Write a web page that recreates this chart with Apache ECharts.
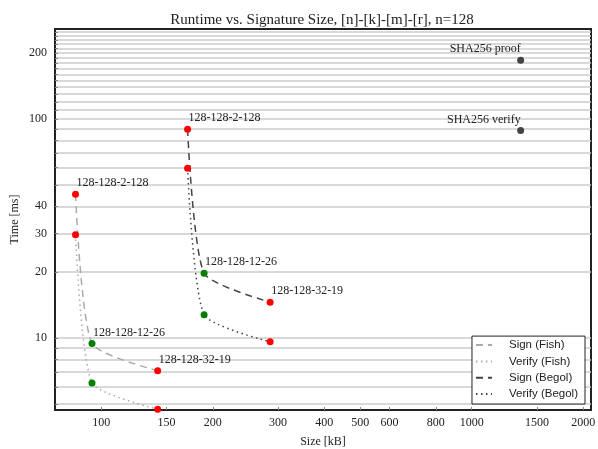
<!DOCTYPE html>
<html>
<head>
<meta charset="utf-8">
<script src="https://cdn.jsdelivr.net/npm/echarts@6/dist/echarts.min.js"></script>
<style>html,body{margin:0;padding:0;background:#fff}#chart{width:598px;height:449px}</style>
</head>
<body>
<div id="chart"></div>
<script>
// ---- data ----
const paramLabels = ['128-128-2-128', '128-128-12-26', '128-128-32-19'];
const fishSize = [85.2, 94.4, 142];
const fishSign = [45.4, 9.45, 7.11];
const fishVerify = [29.7, 6.25, 4.74];
const begolSize = [171, 189.5, 285.7];
const begolSign = [90, 19.8, 14.6];
const begolVerify = [59.7, 12.8, 9.62];
const shaNames = ['SHA256 proof', 'SHA256 verify'];
const shaSize = [1356, 1356];
const shaTime = [186, 88.7];
const xTickLabels = [100, 150, 200, 300, 400, 500, 600, 800, 1000, 1500, 2000];
const yTickLabels = [10, 20, 30, 40, 100, 200];
const yGridValues = [5, 6, 7, 8, 9, 10, 20, 30, 40, 50, 60, 70, 80, 90,
  100, 110, 120, 130, 140, 150, 160, 170, 180, 190, 200, 210, 220, 230, 240, 250];

// ---- styles ----
const SERIF = '"Liberation Serif", "DejaVu Serif", serif';
const SANS = '"Liberation Sans", "DejaVu Sans", sans-serif';
const pointColors = ['#ff0000', '#008000', '#ff0000'];
const light = '#aaaaaa', dark = '#444444';

function pairs(xs, ys) { return xs.map((x, i) => [x, ys[i]]); }

function lineSeries(name, xs, ys, color, type) {
  return {
    name: name, type: 'line', data: pairs(xs, ys), symbol: 'none',
    smooth: 0.2, z: 2,
    lineStyle: { color: color, width: 1.5, type: type === 'dashed' ? [7, 5] : [1.5, 3.5] },
    itemStyle: { color: color }
  };
}

function markerSeries(xs, ys, withLabels) {
  return {
    type: 'scatter', z: 5, symbolSize: 7,
    data: xs.map((x, i) => ({
      value: [x, ys[i]],
      itemStyle: { color: pointColors[i], opacity: 1 },
      label: withLabels ? {
        show: true, formatter: paramLabels[i], position: [4.5, -7.5],
        align: 'left', verticalAlign: 'middle',
        fontFamily: SERIF, fontSize: 12, color: '#222'
      } : { show: false }
    }))
  };
}

const chart = echarts.init(document.getElementById('chart'), null, { renderer: 'canvas' });
chart.setOption({
  animation: false,
  backgroundColor: '#fff',
  title: {
    text: 'Runtime vs. Signature Size, [n]-[k]-[m]-[r], n=128',
    left: 317, textAlign: 'center', top: 8,
    textStyle: { fontFamily: SERIF, fontSize: 15, fontWeight: 'normal', color: '#222' }
  },
  grid: { left: 55, right: 7, top: 29, bottom: 39, show: true, borderColor: '#222', borderWidth: 2,
    containLabel: false, outerBoundsMode: 'none' },
  legend: {
    data: ['Sign (Fish)', 'Verify (Fish)', 'Sign (Begol)', 'Verify (Begol)'],
    orient: 'vertical', right: 13, bottom: 45,
    itemWidth: 16, itemHeight: 14, itemGap: 4.3,
    padding: [3, 7, 4, 3],
    itemStyle: { opacity: 0 },
    backgroundColor: '#fff', borderColor: '#222', borderWidth: 1, borderRadius: 0,
    textStyle: { fontFamily: SANS, fontSize: 11.5, color: '#222', padding: [0, 0, 0, 12] }
  },
  xAxis: {
    type: 'log', min: 75, max: 2100,
    name: 'Size [kB]', nameLocation: 'middle', nameGap: 26,
    nameTextStyle: { fontFamily: SERIF, fontSize: 12, color: '#222' },
    axisLine: { show: true, lineStyle: { color: '#222', width: 2 } },
    axisTick: { show: true, inside: true, length: 3, customValues: xTickLabels, lineStyle: { color: '#888' } },
    axisLabel: { customValues: xTickLabels, fontFamily: SERIF, fontSize: 12, color: '#222', margin: 7,
      formatter: v => String(Math.round(v)) },
    splitLine: { show: false },
    minorTick: { show: false }
  },
  yAxis: {
    type: 'log', min: 4.7, max: 258,
    name: 'Time [ms]', nameLocation: 'middle', nameGap: 34, nameMoveOverlap: false,
    nameTextStyle: { fontFamily: SERIF, fontSize: 12, color: '#222' },
    axisLine: { show: true, lineStyle: { color: '#222', width: 2 } },
    axisTick: { show: true, inside: true, length: 3, customValues: yGridValues, lineStyle: { color: '#888' } },
    axisLabel: { customValues: yTickLabels, fontFamily: SERIF, fontSize: 12, color: '#222', margin: 8,
      formatter: v => String(Math.round(v)) },
    splitLine: { show: true, lineStyle: { color: '#cccccc', width: 1.5 } }
  },
  series: [
    lineSeries('Sign (Fish)', fishSize, fishSign, light, 'dashed'),
    lineSeries('Verify (Fish)', fishSize, fishVerify, light, 'dotted'),
    lineSeries('Sign (Begol)', begolSize, begolSign, dark, 'dashed'),
    lineSeries('Verify (Begol)', begolSize, begolVerify, dark, 'dotted'),
    markerSeries(fishSize, fishSign, true),
    markerSeries(fishSize, fishVerify, false),
    markerSeries(begolSize, begolSign, true),
    markerSeries(begolSize, begolVerify, false),
    {
      type: 'scatter', z: 5, symbolSize: 7,
      itemStyle: { color: dark, opacity: 1 },
      data: shaSize.map((x, i) => ({ value: [x, shaTime[i]], name: shaNames[i] })),
      label: { show: true, formatter: p => p.name, position: [3.5, -7.5], align: 'right',
        verticalAlign: 'middle', fontFamily: SERIF, fontSize: 12, color: '#222' }
    }
  ]
});
</script>
</body>
</html>
